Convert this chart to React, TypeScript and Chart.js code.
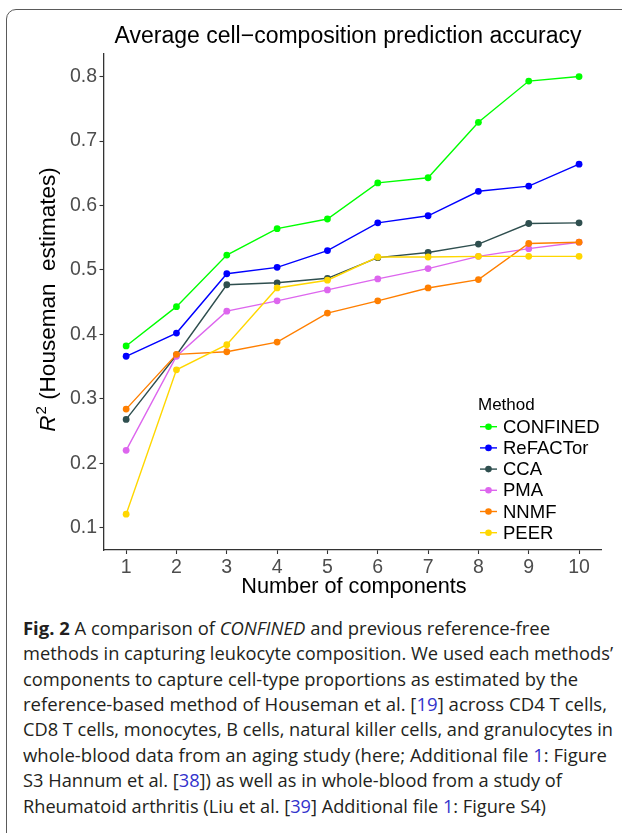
import React, { useEffect, useLayoutEffect, useRef } from "react";
import { Chart, registerables } from "chart.js";

Chart.register(...registerables);

// ---------- data ----------
const components = [1, 2, 3, 4, 5, 6, 7, 8, 9, 10];
const confined = [0.382, 0.443, 0.523, 0.564, 0.579, 0.635, 0.643, 0.729, 0.793, 0.8];
const refactor = [0.366, 0.402, 0.494, 0.504, 0.53, 0.573, 0.584, 0.622, 0.63, 0.664];
const cca = [0.268, 0.368, 0.477, 0.48, 0.487, 0.519, 0.527, 0.54, 0.572, 0.573];
const pma = [0.22, 0.366, 0.436, 0.452, 0.469, 0.486, 0.502, 0.521, 0.533, 0.543];
const nnmf = [0.284, 0.369, 0.373, 0.388, 0.433, 0.452, 0.472, 0.485, 0.541, 0.543];
const peer = [0.121, 0.345, 0.384, 0.472, 0.484, 0.52, 0.52, 0.521, 0.521, 0.521];

const methodNames = ["CONFINED", "ReFACTor", "CCA", "PMA", "NNMF", "PEER"];
const methodValues = [confined, refactor, cca, pma, nnmf, peer];
const methodColors = ["#00FF00", "#0000FF", "#2F4F4F", "#DD66EE", "#FF7F00", "#FFD700"];

const yTicks = [0.1, 0.2, 0.3, 0.4, 0.5, 0.6, 0.7, 0.8];
const xTicks = [1, 2, 3, 4, 5, 6, 7, 8, 9, 10];

const chartTitle = "Average cell\u2212composition prediction accuracy";
const xTitle = "Number of components";
const yTitleRest = " (Houseman  estimates)";
const legendTitle = "Method";

const FONT = '"Liberation Sans", Arial, sans-serif';

// ---------- caption ----------
const BLUE = "#3333CC";
const captionLines: React.ReactNode[] = [
  <><b>Fig. 2</b> A comparison of <i>CONFINED</i> and previous reference-free</>,
  <>methods in capturing leukocyte composition. We used each methods’</>,
  <>components to capture cell-type proportions as estimated by the</>,
  <>reference-based method of Houseman et al. [<span style={{ color: BLUE }}>19</span>] across CD4 T cells,</>,
  <>CD8 T cells, monocytes, B cells, natural killer cells, and granulocytes in</>,
  <>whole-blood data from an aging study (here; Additional file <span style={{ color: BLUE }}>1</span>: Figure</>,
  <>S3 Hannum et al. [<span style={{ color: BLUE }}>38</span>]) as well as in whole-blood from a study of</>,
  <>Rheumatoid arthritis (Liu et al. [<span style={{ color: BLUE }}>39</span>] Additional file <span style={{ color: BLUE }}>1</span>: Figure S4)</>,
];
const captionRightEdges = [550, 613, 578, 607, 613, 607, 562, 546];

const overlayPlugin = {
  id: "overlay",
  afterDraw(chart: any) {
    const ctx = chart.ctx as CanvasRenderingContext2D;
    ctx.save();
    // title
    ctx.fillStyle = "#000";
    ctx.font = `23px ${FONT}`;
    ctx.textAlign = "center";
    ctx.textBaseline = "alphabetic";
    ctx.fillText(chartTitle, 348, 43);
    // x title
    ctx.font = `21.7px ${FONT}`;
    ctx.fillText(xTitle, 354, 593);

    // y title
    ctx.save();
    ctx.translate(47, 300);
    ctx.rotate(-Math.PI / 2);
    ctx.textAlign = "left";
    const fIt = `italic 22.5px ${FONT}`;
    const fSup = `15px ${FONT}`;
    const fReg = `22.5px ${FONT}`;
    ctx.font = fIt;
    const wR = ctx.measureText("R").width;
    ctx.font = fSup;
    const w2 = ctx.measureText("2").width;
    ctx.font = fReg;
    const wRest = ctx.measureText(yTitleRest).width;
    let x0 = -(wR + w2 + wRest) / 2;
    const base = 8;
    ctx.font = fIt;
    ctx.fillText("R", x0, base);
    x0 += wR + 1;
    ctx.font = fSup;
    ctx.fillText("2", x0, base - 9.5);
    x0 += w2;
    ctx.font = fReg;
    ctx.fillText(yTitleRest, x0, base);
    ctx.restore();

    // legend
    ctx.textAlign = "left";
    ctx.textBaseline = "middle";
    ctx.fillStyle = "#000";
    ctx.font = `17px ${FONT}`;
    ctx.fillText(legendTitle, 478, 405);
    ctx.font = `18.5px ${FONT}`;
    methodNames.forEach((name, i) => {
      const y = 426.7 + i * 21.2;
      ctx.strokeStyle = methodColors[i];
      ctx.lineWidth = 1.4;
      ctx.beginPath();
      ctx.moveTo(480, y);
      ctx.lineTo(497, y);
      ctx.stroke();
      ctx.fillStyle = methodColors[i];
      ctx.beginPath();
      ctx.arc(488.5, y, 3.3, 0, Math.PI * 2);
      ctx.fill();
      ctx.fillStyle = "#000";
      ctx.fillText(name, 503, y + 1);
    });
    ctx.restore();
  },
};

function ChartCanvas() {
  const ref = useRef<HTMLCanvasElement>(null);
  useEffect(() => {
    if (!ref.current) return;
    const n = methodNames.length;
    const chart = new Chart(ref.current, {
      type: "line",
      data: {
        datasets: methodNames.map((name, i) => ({
          label: name,
          data: components.map((c, j) => ({ x: c, y: methodValues[i][j] })),
          borderColor: methodColors[i],
          backgroundColor: methodColors[i],
          pointBackgroundColor: methodColors[i],
          pointBorderWidth: 0,
          pointRadius: 3.4,
          borderWidth: 1.4,
          tension: 0,
          order: n - i,
        })),
      },
      options: {
        responsive: false,
        animation: false,
        events: [],
        layout: { padding: { top: 54, right: 20.3, left: 0, bottom: 0 } },
        plugins: { legend: { display: false }, title: { display: false }, tooltip: { enabled: false } },
        scales: {
          x: {
            type: "linear",
            min: 0.55,
            max: 10.45,
            afterBuildTicks: (s: any) => {
              s.ticks = xTicks.map((v) => ({ value: v }));
            },
            afterFit: (s: any) => {
              s.height = 50;
            },
            grid: { drawOnChartArea: false, tickLength: 4, tickColor: "#333", tickWidth: 1.1 },
            border: { color: "#333", width: 1.3 },
            ticks: {
              font: { family: FONT, size: 19.5 },
              color: "#4D4D4D",
              padding: 1.5,
              maxRotation: 0,
              autoSkip: false,
              callback: (v: any) => String(v),
            },
          },
          y: {
            type: "linear",
            min: 0.0654,
            max: 0.835,
            afterBuildTicks: (s: any) => {
              s.ticks = yTicks.map((v) => ({ value: v }));
            },
            afterFit: (s: any) => {
              s.width = 103.5;
            },
            grid: { drawOnChartArea: false, tickLength: 4, tickColor: "#333", tickWidth: 1.1 },
            border: { color: "#333", width: 1.3 },
            ticks: {
              font: { family: FONT, size: 19.5 },
              color: "#4D4D4D",
              padding: 2.5,
              autoSkip: false,
              callback: (v: any) => Number(v).toFixed(1),
            },
          },
        },
      },
      plugins: [overlayPlugin],
    } as any);
    return () => chart.destroy();
  }, []);
  return (
    <canvas
      ref={ref}
      width={622}
      height={600}
      style={{ position: "absolute", left: 0, top: 0, width: 622, height: 600 }}
    />
  );
}

function Caption() {
  const refs = useRef<(HTMLDivElement | null)[]>([]);
  useLayoutEffect(() => {
    refs.current.forEach((el, i) => {
      if (!el) return;
      const span = el.firstElementChild as HTMLElement;
      const w = span.getBoundingClientRect().width;
      const target = captionRightEdges[i] - 23;
      if (w > 0) el.style.transform = `scaleX(${target / w})`;
    });
  }, []);
  return (
    <div
      style={{
        position: "absolute",
        left: 23,
        top: 615.7,
        fontFamily: '"Open Sans", "Noto Sans", sans-serif',
        fontSize: 17.8,
        lineHeight: "25.4px",
        color: "#231F20",
      }}
    >
      {captionLines.map((line, i) => (
        <div
          key={i}
          ref={(el) => {
            refs.current[i] = el;
          }}
          style={{ whiteSpace: "nowrap", transformOrigin: "left center", width: 800 }}
        >
          <span>{line}</span>
        </div>
      ))}
    </div>
  );
}

export default function App() {
  return (
    <div
      style={{
        position: "absolute",
        left: 0,
        top: 0,
        width: 622,
        height: 833,
        overflow: "hidden",
        background: "#fff",
      }}
    >
      <div
        style={{
          position: "absolute",
          left: 6,
          top: 9,
          width: 700,
          height: 900,
          border: "1.5px solid #5A5A5A",
          borderRadius: 10,
          boxSizing: "border-box",
        }}
      />
      <ChartCanvas />
      <Caption />
    </div>
  );
}
